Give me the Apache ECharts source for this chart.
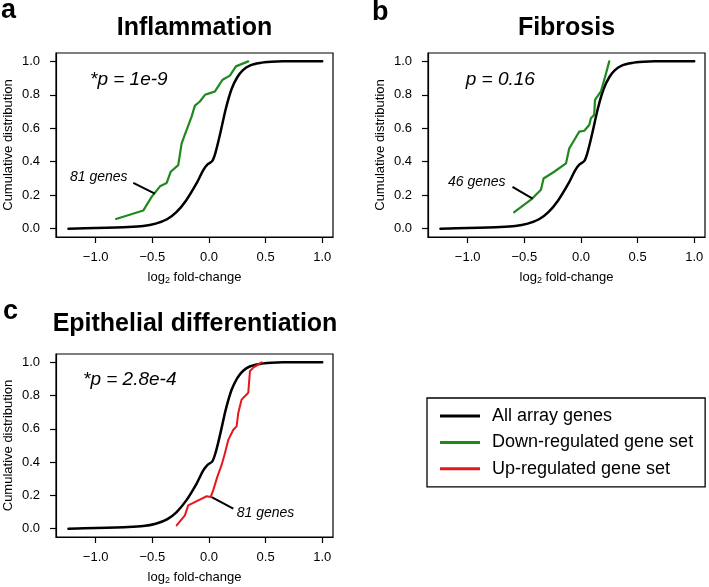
<!DOCTYPE html>
<html>
<head>
<meta charset="utf-8">
<script src="https://cdn.jsdelivr.net/npm/echarts@6/dist/echarts.min.js"></script>
<style>
  html, body { margin: 0; padding: 0; background: #fff; }
  #chart { width: 709px; height: 587px; }
</style>
</head>
<body>
<div id="chart"></div>
<script>
// all array genes (same curve in every panel)
const allX = [-1.24, -1.1, -0.9, -0.75, -0.58, -0.47, -0.37, -0.285, -0.2, -0.11, -0.05, -0.01, 0.03, 0.06, 0.1, 0.15, 0.2, 0.25, 0.3, 0.36, 0.45, 0.55, 0.65, 0.8, 1.0];
const allY = [0, 0.002, 0.005, 0.009, 0.016, 0.03, 0.056, 0.1, 0.17, 0.27, 0.35, 0.385, 0.405, 0.46, 0.57, 0.72, 0.835, 0.905, 0.948, 0.975, 0.99, 0.997, 1.0, 1.0, 1.0];

// a: inflammation, down-regulated set
const inflX = [-0.82, -0.58, -0.506, -0.432, -0.373, -0.338, -0.271, -0.241, -0.197, -0.153, -0.124, -0.08, -0.035, 0.009, 0.053, 0.082, 0.12, 0.185, 0.238, 0.347];
const inflY = [0.058, 0.108, 0.19, 0.253, 0.273, 0.34, 0.38, 0.51, 0.59, 0.67, 0.735, 0.76, 0.8, 0.81, 0.82, 0.85, 0.89, 0.915, 0.97, 1.0];

// b: fibrosis, down-regulated set
const fibX = [-0.589, -0.441, -0.353, -0.33, -0.236, -0.132, -0.103, -0.059, -0.015, 0.029, 0.073, 0.088, 0.117, 0.124, 0.176, 0.206, 0.25];
const fibY = [0.098, 0.173, 0.233, 0.3, 0.34, 0.39, 0.48, 0.53, 0.58, 0.585, 0.62, 0.66, 0.68, 0.77, 0.82, 0.89, 1.0];

// c: epithelial differentiation, up-regulated set
const epiX = [-0.285, -0.212, -0.183, -0.094, -0.02, 0.015, 0.038, 0.073, 0.112, 0.141, 0.171, 0.215, 0.244, 0.259, 0.288, 0.347, 0.362, 0.391, 0.465];
const epiY = [0.02, 0.08, 0.14, 0.17, 0.195, 0.19, 0.232, 0.31, 0.383, 0.454, 0.534, 0.595, 0.615, 0.696, 0.776, 0.817, 0.947, 0.968, 1.0];

// leader lines for the "n genes" notes
const leaderA = [[-0.668, 0.273], [-0.477, 0.209]];
const leaderB = [[-0.604, 0.249], [-0.427, 0.179]];
const leaderC = [[0.024, 0.19], [0.215, 0.12]];

const xTicks = [-1, -0.5, 0, 0.5, 1];
const yTicks = [0, 0.2, 0.4, 0.6, 0.8, 1];
const titles = ['Inflammation', 'Fibrosis', 'Epithelial differentiation'];
const pLabels = ['*p = 1e-9', 'p = 0.16', '*p = 2.8e-4'];
const geneLabels = ['81 genes', '46 genes', '81 genes'];
const legendNames = ['All array genes', 'Down-regulated gene set', 'Up-regulated gene set'];

const FONT = '"Liberation Sans", Arial, Helvetica, sans-serif';
const GREEN = '#1e8a1e';
const RED = '#e8161b';

const pairs = (xs, ys) => xs.map((x, i) => [x, ys[i]]);

const grids = [
    { left: 56, top: 53, width: 277, height: 184 },
    { left: 428, top: 53, width: 277, height: 184 },
    { left: 56, top: 354, width: 277, height: 183 },
];

function makeX(i) {
    return {
        type: 'value', gridIndex: i, min: -1.35, max: 1.095,
        name: 'log{sub|2} fold-change', nameLocation: 'middle', nameGap: 32,
        nameTextStyle: {
            fontFamily: FONT, fontSize: 13, color: '#000',
            rich: { sub: { fontFamily: FONT, fontSize: 9, color: '#000', padding: [7, 0, 0, 0] } },
        },
        axisLine: { show: true, onZero: false, lineStyle: { color: '#000', width: 1.2 } },
        axisTick: { show: true, customValues: xTicks, length: 6, lineStyle: { color: '#000', width: 1.2 } },
        axisLabel: {
            customValues: xTicks, margin: 14, fontFamily: FONT, fontSize: 13, color: '#000',
            formatter: (v) => v.toFixed(1).replace('-', '\u2212'),
        },
        splitLine: { show: false },
    };
}

function makeY(i) {
    return {
        type: 'value', gridIndex: i, min: -0.05, max: 1.05,
        name: 'Cumulative distribution', nameLocation: 'middle', nameGap: 41,
        nameTextStyle: { fontFamily: FONT, fontSize: 13, color: '#000' },
        axisLine: { show: true, onZero: false, lineStyle: { color: '#000', width: 1.2 } },
        axisTick: { show: true, customValues: yTicks, length: 6, lineStyle: { color: '#000', width: 1.2 } },
        axisLabel: {
            customValues: yTicks, margin: 16, fontFamily: FONT, fontSize: 13, color: '#000',
            formatter: (v) => v.toFixed(1),
        },
        splitLine: { show: false },
    };
}

function curve(name, i, data, color, width, smooth) {
    return {
        name: name, type: 'line', xAxisIndex: i, yAxisIndex: i, data: data,
        showSymbol: false, smooth: smooth, silent: true, z: name === legendNames[0] ? 2 : 3,
        lineStyle: { color: color, width: width, cap: 'round', join: 'round' },
        itemStyle: { color: color },
    };
}

function leader(i, data) {
    return {
        type: 'line', xAxisIndex: i, yAxisIndex: i, data: data, showSymbol: false, silent: true,
        lineStyle: { color: '#000', width: 2 }, z: 4,
    };
}

function txt(x, y, text, font, align) {
    return {
        type: 'text', x: x, y: y,
        style: { text: text, font: font, fill: '#000', align: align || 'left', verticalAlign: 'middle' },
    };
}

const chart = echarts.init(document.getElementById('chart'), null, { renderer: 'canvas' });

chart.setOption({
    backgroundColor: '#fff',
    animation: false,
    grid: grids.map((g) => ({ ...g, show: true, borderColor: '#000', borderWidth: 1.2, backgroundColor: 'transparent' })),
    xAxis: [0, 1, 2].map(makeX),
    yAxis: [0, 1, 2].map(makeY),
    legend: {
        orient: 'vertical', left: 427, top: 398,
        data: legendNames, icon: 'rect', itemWidth: 40, itemHeight: 3, itemGap: 8.4,
        borderColor: '#000', borderWidth: 1.3, padding: [9, 12, 9, 13],
        selectedMode: false,
        textStyle: { fontFamily: FONT, fontSize: 18, color: '#000', padding: [0, 0, 0, 7], lineHeight: 18 },
    },
    series: [
        curve(legendNames[0], 0, pairs(allX, allY), '#000', 2.5, 0.3),
        curve(legendNames[0], 1, pairs(allX, allY), '#000', 2.5, 0.3),
        curve(legendNames[0], 2, pairs(allX, allY), '#000', 2.5, 0.3),
        curve(legendNames[1], 0, pairs(inflX, inflY), GREEN, 2.2, false),
        curve(legendNames[1], 1, pairs(fibX, fibY), GREEN, 2.2, false),
        curve(legendNames[2], 2, pairs(epiX, epiY), RED, 2, false),
        leader(0, leaderA),
        leader(1, leaderB),
        leader(2, leaderC),
    ],
    graphic: [
        txt(1, 10.6, 'a', 'bold 27px ' + FONT),
        txt(372, 12.6, 'b', 'bold 27px ' + FONT),
        txt(3, 311.6, 'c', 'bold 27px ' + FONT),
        txt(194.5, 28.5, titles[0], 'bold 25px ' + FONT, 'center'),
        txt(566.5, 28.5, titles[1], 'bold 25px ' + FONT, 'center'),
        txt(195, 324, titles[2], 'bold 25px ' + FONT, 'center'),
        txt(90, 80, pLabels[0], 'italic 19px ' + FONT),
        txt(465.7, 80, pLabels[1], 'italic 19px ' + FONT),
        txt(83, 380, pLabels[2], 'italic 19px ' + FONT),
        txt(70, 177, geneLabels[0], 'italic 14px ' + FONT),
        txt(448, 181.7, geneLabels[1], 'italic 14px ' + FONT),
        txt(236.7, 513, geneLabels[2], 'italic 14px ' + FONT),
    ],
});
</script>
</body>
</html>
